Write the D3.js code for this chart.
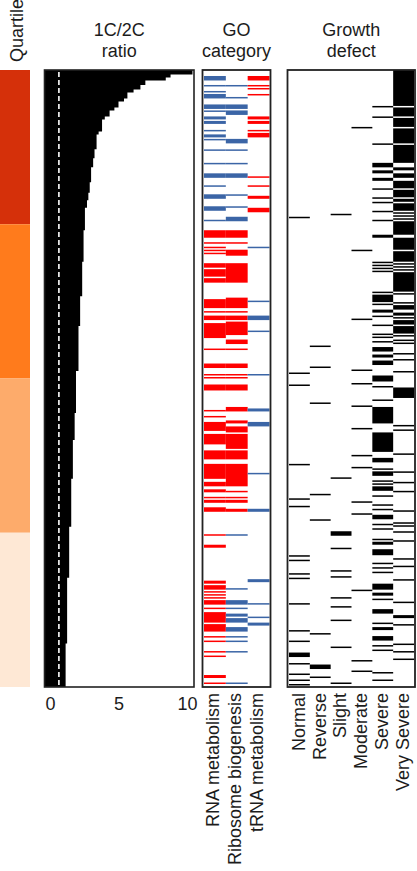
<!DOCTYPE html>
<html>
<head>
<meta charset="utf-8">
<script src="https://cdn.jsdelivr.net/npm/d3@7"></script>
<style>
body { margin: 0; background: #fff; }
text { font-family: "Liberation Sans", Arial, Helvetica, sans-serif; fill: #1c1c1c; }
</style>
</head>
<body>
<svg id="chart" width="417" height="871"></svg>
<script>
// ---- data (rows ordered from highest 1C/2C ratio to lowest) ----
var nRows = 412;

// 1C/2C ratio, as [value, number of rows]
var ratioSteps = [
  [10.4,3],[8.8,2],[8.45,2],[6.96,3],[6.6,3],[6.1,2],[5.65,4],[5.4,2],[5.0,4],[4.7,2],
  [4.35,4],[4.0,2],[3.8,8],[3.55,2],[3.4,10],[3.25,6],[3.15,6],[3.0,10],[2.9,7],[2.8,5],
  [2.7,5],[2.55,15],[2.45,21],[2.35,23],[2.2,20],[2.08,30],[1.9,28],[1.8,18],[1.67,26],
  [1.55,32],[1.4,34],[1.25,44],[1.14,29]
];
var refRatio = 0.65;
var ratioTicks = [0, 5, 10];

var quartiles = [1, 2, 3, 4];
var quartileColors = ["#d5300a", "#ff7b1c", "#fdab6b", "#fee8d5"];

// GO category marks: [first row, rows, colour key]
var goCategories = ["RNA metabolism", "Ribosome biogenesis", "tRNA metabolism"];
var goRNA = [
  [4,3,"b"],[10,1,"b"],[14,1,"b"],[16,3,"b"],[23,3,"b"],[27,1,"b"],[31,2,"b"],[34,2,"b"],[40,1,"b"],
  [43,2,"b"],[46,1,"b"],[53,1,"b"],[62,1,"b"],[69,3,"b"],[77,1,"b"],[83,3,"b"],[91,3,"b"],[100,1,"b"],
  [107,5,"r"],[115,1,"r"],[118,1,"r"],[120,1,"r"],[122,1,"r"],[129,3,"r"],[133,5,"r"],[139,3,"r"],
  [153,6,"r"],[161,1,"r"],[164,3,"r"],[169,10,"r"],[186,1,"r"],[196,3,"r"],[203,1,"r"],[205,1,"r"],
  [210,4,"r"],[227,1,"r"],[231,1,"r"],[235,6,"r"],[243,7,"r"],[254,6,"r"],[263,10,"r"],[275,3,"r"],
  [280,2,"r"],[285,1,"r"],[287,2,"r"],[292,3,"r"],[310,1,"r"],[317,2,"r"],[341,2,"r"],[344,3,"r"],
  [348,1,"r"],[350,1,"r"],[352,1,"r"],[354,3,"r"],[359,1,"r"],[362,7,"r"],[370,5,"r"],[378,1,"r"],
  [381,1,"r"],[388,1,"r"],[391,1,"r"],[404,2,"r"],[409,1,"r"]
];
var goRibosome = [
  [10,1,"b"],[18,1,"b"],[23,3,"b"],[27,3,"b"],[46,3,"b"],[53,1,"b"],[62,1,"b"],[69,3,"b"],[83,1,"b"],
  [91,1,"b"],[98,3,"b"],
  [107,5,"r"],[115,1,"r"],[120,4,"r"],[129,13,"r"],[152,7,"r"],[161,1,"r"],[164,3,"r"],[168,9,"r"],
  [180,3,"r"],[186,1,"r"],[196,3,"r"],[203,1,"r"],[205,1,"r"],[210,4,"r"],[225,3,"r"],[234,2,"r"],
  [238,4,"r"],[243,10,"r"],[254,6,"r"],[263,15,"r"],[281,1,"r"],[285,1,"r"],[287,2,"r"],[293,2,"r"],
  [310,1,"b"],[346,1,"b"],[354,3,"b"],[359,1,"b"],[363,2,"b"],[366,3,"b"],[372,3,"b"],[378,1,"b"],
  [381,1,"b"],[388,1,"b"],[409,1,"b"]
];
var goTRNA = [
  [4,3,"r"],[10,1,"r"],[12,1,"r"],[16,1,"r"],[31,2,"r"],[34,2,"r"],[40,1,"r"],[42,3,"r"],[71,1,"r"],
  [77,1,"r"],[84,2,"r"],[92,3,"r"],
  [118,1,"b"],[154,1,"b"],[164,3,"b"],[174,1,"b"],[203,1,"b"],[226,2,"b"],[235,3,"b"],[269,1,"b"],
  [293,2,"b"],[340,2,"b"],[356,1,"b"],[365,1,"b"],[369,2,"b"]
];
var goColors = { b: "#3b65a6", r: "#ff0000" };

// Growth defect marks: [first row, rows]
var growthClasses = ["Normal", "Reverse", "Slight", "Moderate", "Severe", "Very Severe"];
var growthNormal = [[98,1],[202,1],[210,1],[263,1],[286,1],[291,1],[324,1],[327,1],[336,1],[339,1],
  [356,1],[374,1],[381,1],[389,3],[396,1],[403,1],[407,1],[410,1]];
var growthReverse = [[184,1],[198,1],[222,1],[283,1],[300,1],[376,1],[397,3],[405,1]];
var growthSlight = [[96,1],[272,1],[308,3],[319,1],[334,1],[338,1],[352,1],[358,1],[367,1],[385,1],[409,1]];
var growthModerate = [[38,1],[120,1],[166,1],[200,1],[209,1],[224,1],[239,1],[257,1],[265,1],[288,1],
  [296,1],[347,1],[394,1],[401,1]];
var growthSevere = [[24,1],[31,1],[49,1],[62,3],[67,2],[72,2],[79,1],[85,1],[88,1],[94,1],[100,1],
  [110,2],[128,1],[130,1],[132,1],[134,1],[148,1],[150,5],[156,1],[160,2],[164,1],[170,1],
  [176,1],[178,1],[181,1],[185,3],[190,2],[194,3],[204,4],[211,1],[220,1],[225,11],[242,13],[259,3],
  [266,1],[268,3],[274,1],[276,1],[278,3],[284,1],[290,1],[293,1],[297,3],[303,1],[306,1],[313,1],
  [315,2],[320,4],[329,1],[332,1],[335,1],[343,4],[349,2],[353,1],[360,3],[369,1],[372,2],[378,3],
  [384,1],[387,1],[402,1],[407,1]];
var growthVerySevere = [[0,24],[25,6],[32,6],[39,10],[50,12],[65,2],[69,3],[74,5],[80,5],[86,2],
  [89,5],[95,1],[97,1],[99,1],[101,9],[112,8],[121,7],[129,1],[131,1],[133,1],[135,13],[149,1],
  [155,1],[157,3],[162,2],[165,1],[167,3],[171,5],[177,1],[180,1],[182,1],[189,1],[193,1],
  [201,1],[212,7],[237,1],[240,1],[256,1],[268,1],[275,1],[281,1],[294,1],[302,1],[304,1],[308,1],
  [314,1],[326,1],[331,1],[340,1],[355,1],[364,2],[370,1],[383,1],[388,1],[393,1]];

// ---- layout ----
var panelTop = 70, panelBottom = 687;
var svg = d3.select("#chart");

var y = d3.scaleLinear().domain([0, nRows]).range([panelTop, panelBottom]);

// expand ratio steps to one value per row
var ratio = [];
ratioSteps.forEach(function(s) { for (var i = 0; i < s[1]; i++) ratio.push(s[0]); });

// quartile strip
var qRows = nRows / quartiles.length;
svg.append("g").selectAll("rect")
    .data(quartiles).enter().append("rect")
    .attr("x", 0)
    .attr("width", 30)
    .attr("y", function(d, i) { return y(i * qRows); })
    .attr("height", function(d, i) { return y((i + 1) * qRows) - y(i * qRows); })
    .style("fill", function(d, i) { return quartileColors[i]; });

svg.append("text")
    .attr("transform", "translate(23,62) rotate(-90)")
    .attr("text-anchor", "start")
    .style("font-size", "18px")
    .text("Quartile");

// 1C/2C ratio panel
var rLeft = 44.5, rRight = 194;
var x = d3.scaleLinear().domain([0, 10]).range([50, 187]);

svg.append("defs").append("clipPath").attr("id", "rclip")
  .append("rect").attr("x", rLeft).attr("y", panelTop).attr("width", rRight - rLeft).attr("height", panelBottom - panelTop);

// one horizontal bar per row, drawn as a single stepped area so rows join without seams
var ratioArea = d3.area()
    .curve(d3.curveStepBefore)
    .y(function(i) { return y(i); })
    .x0(rLeft)
    .x1(function(i) { return x(ratio[Math.min(i, ratio.length - 1)]); });

svg.append("path")
    .datum(d3.range(ratio.length + 1))
    .attr("clip-path", "url(#rclip)")
    .attr("d", ratioArea)
    .style("fill", "#000");

svg.append("line")
    .attr("x1", x(refRatio)).attr("x2", x(refRatio))
    .attr("y1", panelTop + 2).attr("y2", panelBottom)
    .style("stroke", "#fff")
    .style("stroke-width", 1.6)
    .style("stroke-dasharray", "5,3");

svg.append("rect")
    .attr("x", rLeft).attr("y", panelTop)
    .attr("width", rRight - rLeft).attr("height", panelBottom - panelTop)
    .style("fill", "none").style("stroke", "#222").style("stroke-width", 1.6);

var xAxis = d3.axisBottom(x).tickValues(ratioTicks).tickSize(0).tickPadding(10);
var ax = svg.append("g")
    .attr("transform", "translate(0," + panelBottom + ")")
    .call(xAxis);
ax.select(".domain").remove();
ax.selectAll("text")
    .style("font-size", "18px")
    .style("font-family", '"Liberation Sans", Arial, sans-serif')
    .style("fill", "#1c1c1c");

function title(cx, l1, l2) {
  var t = svg.append("text").attr("text-anchor", "middle").style("font-size", "18px");
  t.append("tspan").attr("x", cx).attr("y", 36).text(l1);
  t.append("tspan").attr("x", cx).attr("y", 57).text(l2);
}
title((rLeft + rRight) / 2, "1C/2C", "ratio");

// GO category panel
var gLeft = 202.5, gRight = 270.5;
var goX = d3.scaleBand().domain(goCategories).range([204, 269.5]);
var goData = [goRNA, goRibosome, goTRNA];

goCategories.forEach(function(cat, ci) {
  svg.append("g").selectAll("rect")
      .data(goData[ci]).enter().append("rect")
      .attr("x", goX(cat))
      .attr("width", goX.bandwidth())
      .attr("y", function(d) { return y(d[0]); })
      .attr("height", function(d) { return y(d[0] + d[1]) - y(d[0]); })
      .style("fill", function(d) { return goColors[d[2]]; });
});

svg.append("rect")
    .attr("x", gLeft).attr("y", panelTop)
    .attr("width", gRight - gLeft).attr("height", panelBottom - panelTop)
    .style("fill", "none").style("stroke", "#222").style("stroke-width", 1.8);

svg.append("g").selectAll("text")
    .data(goCategories).enter().append("text")
    .attr("transform", function(d) {
      return "translate(" + (goX(d) + goX.bandwidth() / 2) + "," + (panelBottom + 6) + ") rotate(-90)";
    })
    .attr("text-anchor", "end")
    .attr("dy", "0.25em")
    .style("font-size", "18px")
    .text(function(d) { return d; });

title((gLeft + gRight) / 2, "GO", "category");

// Growth defect panel
var dLeft = 287.5, dRight = 415;
var gx = d3.scaleBand().domain(growthClasses).range([289, 414]);
var growthData = [growthNormal, growthReverse, growthSlight, growthModerate, growthSevere, growthVerySevere];

growthClasses.forEach(function(cls, ci) {
  svg.append("g").selectAll("rect")
      .data(growthData[ci]).enter().append("rect")
      .attr("x", gx(cls))
      .attr("width", gx.bandwidth())
      .attr("y", function(d) { return y(d[0]); })
      .attr("height", function(d) { return y(d[0] + d[1]) - y(d[0]); })
      .style("fill", "#000");
});

svg.append("rect")
    .attr("x", dLeft).attr("y", panelTop)
    .attr("width", dRight - dLeft).attr("height", panelBottom - panelTop)
    .style("fill", "none").style("stroke", "#222").style("stroke-width", 1.8);

svg.append("g").selectAll("text")
    .data(growthClasses).enter().append("text")
    .attr("transform", function(d) {
      return "translate(" + (gx(d) + gx.bandwidth() / 2) + "," + (panelBottom + 6) + ") rotate(-90)";
    })
    .attr("text-anchor", "end")
    .attr("dy", "0.3em")
    .style("font-size", "18px")
    .text(function(d) { return d; });

title((dLeft + dRight) / 2, "Growth", "defect");
</script>
</body>
</html>
